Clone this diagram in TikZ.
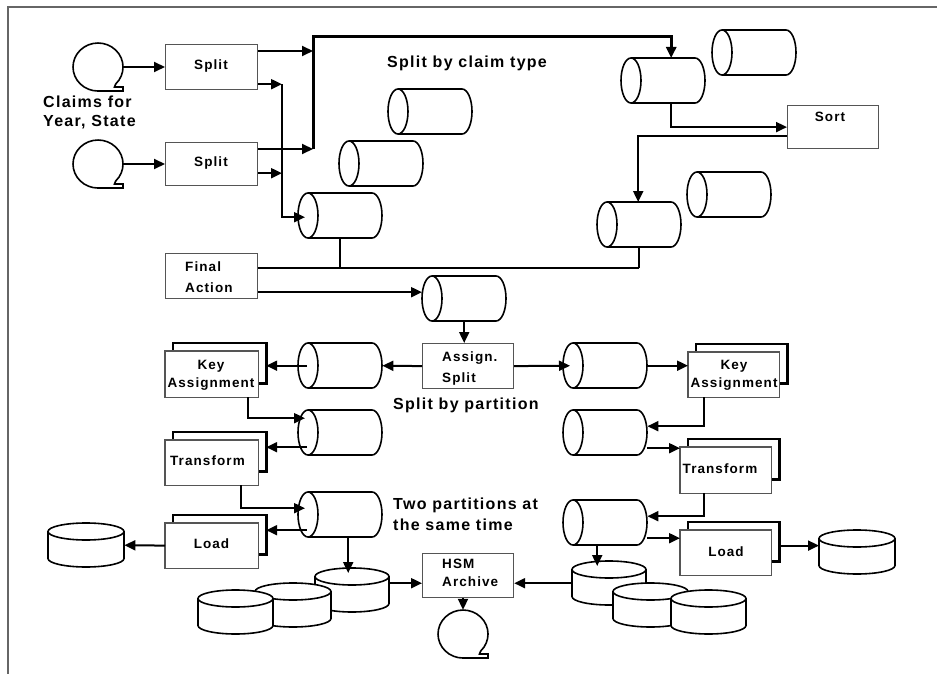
\documentclass[tikz,border=0pt]{standalone}
\usepackage{fontspec}
\setmainfont{Liberation Sans}[LetterSpace=8]
\usetikzlibrary{arrows.meta}

\definecolor{boxgray}{HTML}{555555}
\definecolor{framegray}{HTML}{666666}

% several lines of text; the baseline is that of the first line
\newcommand\rows[4]{{\fontsize{#1}{#2}\selectfont\begin{tabular}[t]{@{}#3@{}}#4\end{tabular}}}

% data set: a cylinder lying on its side, 84 x 45
\newcommand\hcyl[3]{%
  \node[inner sep=0pt, minimum width=84pt, minimum height=45pt, anchor=north west] (#1) at (#2,#3) {};
  \draw[cylline] (#2+10,#3) -- (#2+74,#3)
    arc[start angle=-90, end angle=90, x radius=10, y radius=22.5]
    -- (#2+10,#3+45)
    arc[start angle=90, end angle=270, x radius=10, y radius=22.5] -- cycle;
  \draw[cylline, fill=none] (#2+10,#3) arc[start angle=-90, end angle=90, x radius=10, y radius=22.5];
}

% disk: an upright cylinder, 44 high, given width
\newcommand\vdisk[4]{%
  \node[inner sep=0pt, minimum width=#4pt, minimum height=44pt, anchor=north west] (#1) at (#2,#3) {};
  \draw[cylline] (#2,#3+8.5) -- (#2,#3+35.5)
    arc[start angle=180, end angle=0, x radius=#4/2, y radius=8.5]
    -- (#2+#4,#3+8.5)
    arc[start angle=0, end angle=-180, x radius=#4/2, y radius=8.5] -- cycle;
  \draw[cylline, fill=none] (#2,#3+8.5) arc[start angle=180, end angle=0, x radius=#4/2, y radius=8.5];
}

% magnetic tape reel
\newcommand\tape[3]{%
  \node[inner sep=0pt, minimum width=50pt, minimum height=48pt] (#1) at (#2,#3) {};
  \draw[cylline] (#2+17.7,#3+17) arc[start angle=45, end angle=-270, x radius=25, y radius=24]
    -- (#2+25,#3+24) -- (#2+25,#3+20) -- (#2+16.5,#3+20) -- cycle;
}

% stacked copy behind a process box
\newcommand\backplate[1]{%
  \draw[plate] ([xshift=8pt]#1.north west) -- ([xshift=8pt,yshift=8pt]#1.north west)
    -- ([xshift=8pt,yshift=8pt]#1.north east) -- ([xshift=8pt,yshift=14pt]#1.south east)
    -- ([yshift=14pt]#1.south east);
  \coordinate (#1-s) at ([xshift=8pt]#1.east);
}

\begin{document}
\begin{tikzpicture}[x=1pt, y=-1pt,
  cylline/.style={line width=1.6pt, draw=black, fill=white},
  box/.style={draw=boxgray, line width=1.2pt, fill=white, inner sep=0pt, anchor=north west},
  plate/.style={line width=2.6pt, draw=black, line join=miter},
  lbl/.style={inner sep=0pt, font=\fontsize{13.5}{16}\selectfont\bfseries},
  big/.style={inner sep=0pt, font=\fontsize{16}{19}\selectfont\bfseries},
  conn/.style={line width=2pt, -{Triangle[length=11pt, width=10pt]}},
  link/.style={line width=2.2pt},
  trunk/.style={line width=3pt, -{Triangle[length=11pt, width=10pt]}}
]
\useasboundingbox (0,0) rectangle (937,674);

% page frame
\draw[framegray, line width=1.2pt] (8,674) -- (8,7) -- (937,7);

% tapes
\tape{tape1}{98}{67}
\tape{tape2}{98}{164}
\tape{tape3}{463}{634}

% cylinders
\hcyl{cA}{298}{193}
\hcyl{cB}{339}{141}
\hcyl{cC}{388}{89}
\hcyl{cD}{621}{58}
\hcyl{cE}{712}{30}
\hcyl{cF}{597}{202}
\hcyl{cG}{687}{172}
\hcyl{cH}{422}{276}
\hcyl{cI}{298}{343}
\hcyl{cJ}{298}{410}
\hcyl{cK}{298}{492}
\hcyl{cN}{563}{343}
\hcyl{cO}{563}{410}
\hcyl{cP}{563}{500}

% disks
\vdisk{dL}{48}{523}{76}
\vdisk{dM1}{315}{568}{74}
\vdisk{dM2}{255}{583}{76}
\vdisk{dM3}{198}{590}{75}
\vdisk{dR}{819}{530}{76}
\vdisk{dS1}{572}{561}{74}
\vdisk{dS2}{613}{583}{75}
\vdisk{dS3}{671}{590}{75}

% process boxes
\node[box, minimum width=92pt, minimum height=45pt] (split1) at (165,44) {};
\node[box, minimum width=92pt, minimum height=43pt] (split2) at (165,142) {};
\node[box, minimum width=91pt, minimum height=43pt] (sort) at (787,105) {};
\node[box, minimum width=92pt, minimum height=45pt] (final) at (165,253) {};
\node[box, minimum width=91pt, minimum height=45pt] (assign) at (422,343) {};
\node[box, minimum width=91pt, minimum height=44pt] (hsm) at (422,553) {};

\path (165,351) node[box, minimum width=92pt, minimum height=45pt, draw=none, fill=none] (keyL) {};
\path (165,440) node[box, minimum width=92pt, minimum height=44pt, draw=none, fill=none] (transL) {};
\path (165,523) node[box, minimum width=92pt, minimum height=44pt, draw=none, fill=none] (loadL) {};
\path (688,352) node[box, minimum width=90pt, minimum height=44pt, draw=none, fill=none] (keyR) {};
\path (680,447) node[box, minimum width=90pt, minimum height=45pt, draw=none, fill=none] (transR) {};
\path (680,530) node[box, minimum width=90pt, minimum height=44pt, draw=none, fill=none] (loadR) {};
\foreach \b in {keyL,transL,loadL,keyR,transR,loadR}{
  \backplate{\b}
  \draw[draw=boxgray, line width=1.2pt, fill=white] (\b.north west) rectangle (\b.south east);
}

% box texts
\node[lbl, anchor=base] (split1-t) at (211,70) {Split};
\node[lbl, anchor=base] (split2-t) at (211,167) {Split};
\node[lbl, anchor=base] (sort-t) at (830,122) {Sort};
\node[lbl, anchor=base west] (final-t) at (185,271) {\rows{13.5}{21}{l}{Final\\Action}};
\node[lbl, anchor=base west] (assign-t) at (442,361) {\rows{13.5}{21}{l}{Assign.\\Split}};
\node[lbl, anchor=base west] (hsm-t) at (442,568) {\rows{13.5}{18}{l}{HSM\\Archive}};
\node[lbl, anchor=base] (keyL-t) at (211,369) {\rows{13.5}{18}{c}{Key\\Assignment}};
\node[lbl, anchor=base] (transL-t) at (207.5,465) {Transform};
\node[lbl, anchor=base] (loadL-t) at (211.5,548) {Load};
\node[lbl, anchor=base] (keyR-t) at (734,369) {\rows{13.5}{18}{c}{Key\\Assignment}};
\node[lbl, anchor=base] (transR-t) at (720,473) {Transform};
\node[lbl, anchor=base] (loadR-t) at (726,556) {Load};

% captions
\node[big, anchor=base west] (claims) at (43,108) {\rows{16}{19}{l}{Claims for\\Year, State}};
\node[big, anchor=base west] (bytype) at (387,68) {Split by claim type};
\node[big, anchor=base west] (bypart) at (393,409) {Split by partition};
\node[big, anchor=base west] (twopart) at (393,509) {\rows{16}{21.5}{l}{Two partitions at\\the same time}};

% ---- split by claim type ----
\draw[conn] (tape1.east) -- (split1.west |- tape1.east);
\draw[conn] (tape2.east) -- (split2.west |- tape2.east);

\coordinate (bus) at (313,37);
\coordinate (feed) at (282,83);
\coordinate (s1hi) at ([yshift=-7pt]split1.north east);
\coordinate (s1lo) at ([yshift=6pt]split1.south east);
\coordinate (s2hi) at ([yshift=-7pt]split2.north east);
\coordinate (s2lo) at ([yshift=13pt]split2.south east);

\draw[conn] (s1hi) -- (s1hi -| bus);
\draw[conn] (s2hi) -- (s2hi -| bus);
\draw[trunk] (s2hi -| bus) -- (bus) -| ([xshift=8pt]cD.north);

\draw[conn] (s1lo) -- (s1lo -| feed);
\draw[conn] (s2lo) -- (s2lo -| feed);
\draw[conn] (s1lo -| feed) |- ([xshift=7pt,yshift=-1.5pt]cA.west);

\draw[conn] ([xshift=8pt]cD.south) |- (sort.west);
\draw[conn] ([yshift=-9pt]sort.west) -| ([xshift=-1pt]cF.north);

% ---- final action ----
\coordinate (fa) at ([yshift=-15pt]final.north east);
\draw[link] (fa) -- (fa -| cF.south);
\draw[link] (cA.south) -- (cA.south |- fa);
\draw[link] (cF.south) -- (cF.south |- fa);
\coordinate (fb) at ([yshift=7pt]final.south east);
\draw[conn] (fb) -- (fb -| cH.west);

\draw[conn] (cH.south) -- (cH.south |- assign.north);

% ---- split by partition ----
\draw[conn] (assign.west) -- (cI.east);
\coordinate (iOut) at ([xshift=9pt]cI.west);
\draw[conn] (iOut) -- (iOut -| keyL-s);
\draw[conn] (assign.east) -- ([xshift=7pt]cN.west);
\draw[conn] (cN.east) -- (keyR.west |- cN.east);

% left partition
\draw[conn] ([xshift=-10pt]keyL.south east) |- ([xshift=7pt,yshift=14.5pt]cJ.west);
\coordinate (jOut) at ([xshift=9pt,yshift=-14.5pt]cJ.west);
\draw[conn] (jOut) -- (jOut -| transL-s);
\draw[conn] ([xshift=-17pt]transL.south east) |- ([xshift=7pt,yshift=6.5pt]cK.west);
\coordinate (kOut) at ([xshift=9pt,yshift=-15.5pt]cK.west);
\draw[conn] (kOut) -- (kOut -| loadL-s);
\draw[conn] (loadL.west) -- (dL.east);
\coordinate (kDown) at ([xshift=8pt]cK.south);
\coordinate (m1lid) at ([yshift=-5pt]dM1.north);
\draw[conn] (kDown) -- (kDown |- m1lid);
\coordinate (m1Out) at ([yshift=7pt]dM1.east);
\draw[conn] (m1Out) -- (m1Out -| hsm.west);

% right partition
\draw[conn] ([xshift=16pt]keyR.south west) |- ([yshift=6.5pt]cO.east);
\coordinate (oOut) at ([yshift=-15.5pt]cO.east);
\draw[conn] (oOut) -- (oOut -| transR.west);
\draw[conn] ([xshift=24pt]transR.south west) |- ([yshift=6.5pt]cP.east);
\coordinate (pOut) at ([yshift=-15.5pt]cP.east);
\draw[conn] (pOut) -- (pOut -| loadR.west);
\coordinate (lrOut) at ([xshift=9pt,yshift=7pt]loadR.east);
\draw[conn] (lrOut) -- (lrOut -| dR.west);
\coordinate (pDown) at ([xshift=-8pt]cP.south);
\coordinate (s1lid) at ([yshift=-5pt]dS1.north);
\draw[conn] (pDown) -- (pDown |- s1lid);
\draw[conn] (dS1.west) -- (dS1.west -| hsm.east);

% archive to tape
\draw[conn] (tape3.north |- hsm.south) -- (tape3.north);
\end{tikzpicture}
\end{document}
